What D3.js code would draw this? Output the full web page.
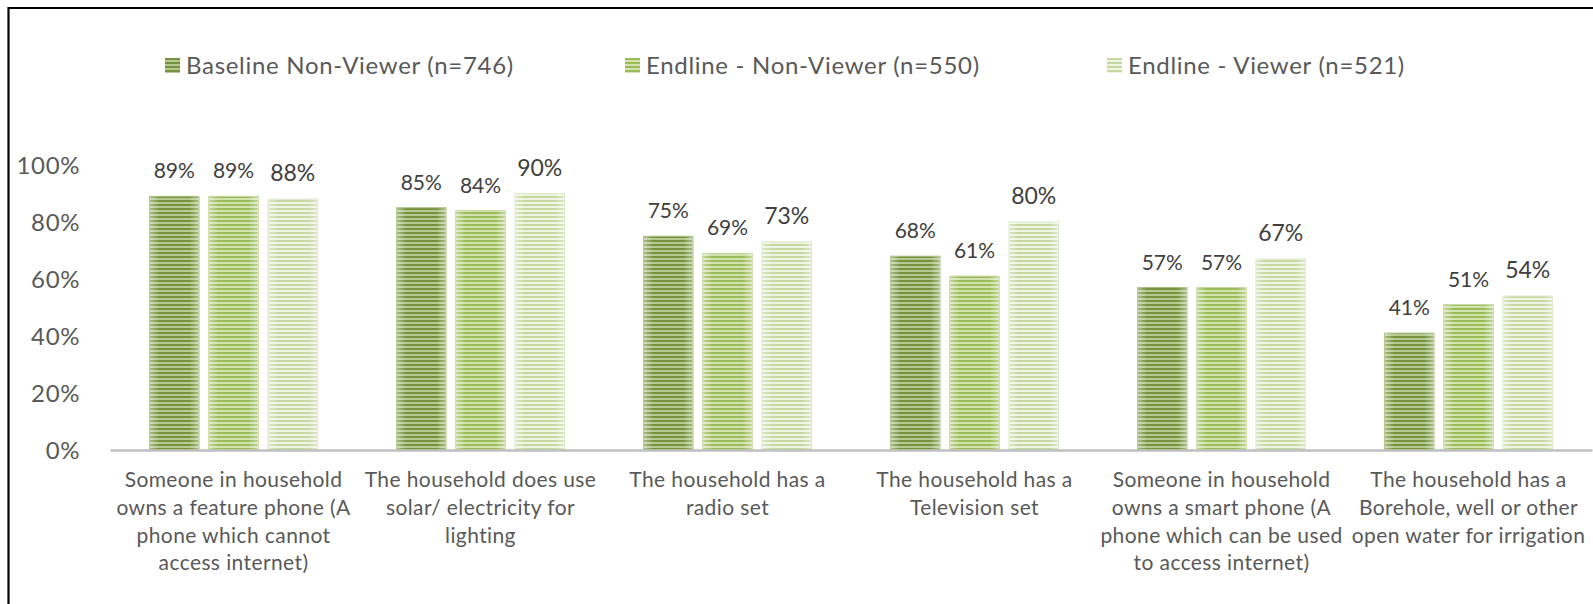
<!DOCTYPE html>
<html>
<head>
<meta charset="utf-8">
<script src="https://cdn.jsdelivr.net/npm/d3@7"></script>
<style>
  html, body { margin: 0; padding: 0; background: #fff; }
  svg { display: block; font-family: Lato, "Open Sans", sans-serif; }
</style>
</head>
<body>
<svg id="chart" width="1593" height="604"></svg>
<script>
// Household asset ownership by survey group
const categories = [
  ["Someone in household", "owns a feature phone (A", "phone which cannot", "access internet)"],
  ["The household does use", "solar/ electricity for", "lighting"],
  ["The household has a", "radio set"],
  ["The household has a", "Television set"],
  ["Someone in household", "owns a smart phone (A", "phone which can be used", "to access internet)"],
  ["The household has a", "Borehole, well or other", "open water for irrigation"]
];
const seriesNames = [
  "Baseline Non-Viewer (n=746)",
  "Endline - Non-Viewer (n=550)",
  "Endline - Viewer (n=521)"
];
const baselineNonViewer = [89, 85, 75, 68, 57, 41];
const endlineNonViewer  = [89, 84, 69, 61, 57, 51];
const endlineViewer     = [88, 90, 73, 80, 67, 54];
const yTicks = [0, 20, 40, 60, 80, 100];

const seriesValues = [baselineNonViewer, endlineNonViewer, endlineViewer];
// stripe colours: [dark stripe, light stripe, outline]
const stripeColors = [
  ["#76923c", "#b5c992", "#a5bd78"],
  ["#9bbb59", "#d2e3ae", "#c2d89a"],
  ["#c5d8a0", "#eef4e2", "#d9e5c4"]
];

const svg = d3.select("#chart");
const width = 1593, height = 604;

// outer frame (open on right and bottom)
svg.append("path")
  .attr("d", `M8.5,${height} L8.5,8 L${width},8`)
  .attr("fill", "none").attr("stroke", "#000").attr("stroke-width", 2.2);

const defs = svg.append("defs");
stripeColors.forEach((c, i) => {
  const p = defs.append("pattern")
    .attr("id", "stripe" + i)
    .attr("patternUnits", "userSpaceOnUse")
    .attr("width", 8).attr("height", 4);
  p.append("rect").attr("width", 8).attr("height", 4).attr("fill", c[1]);
  p.append("rect").attr("width", 8).attr("height", 2).attr("fill", c[0]);
});
// soft light sheen toward the bar edges
const g = defs.append("linearGradient").attr("id", "sheen")
  .attr("x1", "0").attr("x2", "1").attr("y1", "0").attr("y2", "0");
[[0, 0.4], [0.2, 0.0], [0.8, 0.0], [1, 0.4]].forEach(([o, a]) =>
  g.append("stop").attr("offset", o).attr("stop-color", "#fff").attr("stop-opacity", a));

const x0 = d3.scaleBand()
  .domain(d3.range(categories.length))
  .range([110, 1592])
  .paddingInner(0.32).paddingOuter(0.16);
const x1 = d3.scaleBand()
  .domain(d3.range(seriesNames.length))
  .range([0, x0.bandwidth()])
  .paddingInner(0.165);
const y = d3.scaleLinear().domain([0, 100]).range([450, 165]);

// y axis labels
const yAxis = svg.append("g")
  .attr("transform", "translate(80,0)")
  .call(d3.axisLeft(y).tickValues(yTicks).tickFormat(d => d + "%").tickSize(0).tickPadding(0));
yAxis.select(".domain").remove();
yAxis.selectAll("text")
  .attr("fill", "#595959")
  .attr("dy", "0.36em")
  .style("font-size", "24px")
  .style("letter-spacing", "0.6px")
  .style("font-family", "Lato, sans-serif");

// bars
const groups = svg.append("g").selectAll("g")
  .data(categories)
  .join("g")
  .attr("transform", (d, i) => `translate(${x0(i)},0)`);

groups.each(function(_, ci) {
  const grp = d3.select(this);
  seriesValues.forEach((vals, si) => {
    const v = vals[ci];
    grp.append("rect")
      .attr("x", x1(si)).attr("width", x1.bandwidth())
      .attr("y", y(v)).attr("height", y(0) - y(v))
      .attr("fill", `url(#stripe${si})`)
      .attr("stroke", stripeColors[si][2]).attr("stroke-width", 1);
    grp.append("rect")
      .attr("x", x1(si)).attr("width", x1.bandwidth())
      .attr("y", y(v)).attr("height", y(0) - y(v))
      .attr("fill", "url(#sheen)");
    grp.append("text")
      .attr("x", x1(si) + x1.bandwidth() / 2)
      .attr("y", y(v) - 18)
      .attr("text-anchor", "middle")
      .attr("fill", "#404040")
      .style("font-size", si === 2 ? "23px" : "21px")
      .text(v + "%");
  });
});

// x axis baseline
const xAxis = svg.append("g")
  .attr("transform", `translate(0,${y(0)})`)
  .call(d3.axisBottom(x0).tickSize(0).tickFormat(""));
xAxis.select(".domain")
  .attr("stroke", "#bfbfbf").attr("stroke-width", 2.5);

// category labels
const catLabels = svg.append("g").selectAll("text")
  .data(categories)
  .join("text")
  .attr("text-anchor", "middle")
  .attr("fill", "#595959")
  .style("font-size", "21px")
  .style("letter-spacing", "0.4px")
  .attr("transform", (d, i) => `translate(${x0(i) + x0.bandwidth() / 2},487)`);
catLabels.selectAll("tspan")
  .data(d => d)
  .join("tspan")
  .attr("x", 0)
  .attr("dy", (d, i) => i === 0 ? 0 : 27.8)
  .text(d => d);

// legend
const legendX = [165, 625, 1107];
const legend = svg.append("g").selectAll("g")
  .data(seriesNames)
  .join("g")
  .attr("transform", (d, i) => `translate(${legendX[i]},66)`);
legend.append("rect")
  .attr("x", 0).attr("y", -8).attr("width", 15).attr("height", 15)
  .attr("fill", (d, i) => `url(#stripe${i})`);
legend.append("text")
  .attr("x", 21).attr("y", 7.5)
  .attr("fill", "#595959")
  .style("font-size", "24px")
  .style("letter-spacing", "0.7px")
  .text(d => d);
</script>
</body>
</html>
